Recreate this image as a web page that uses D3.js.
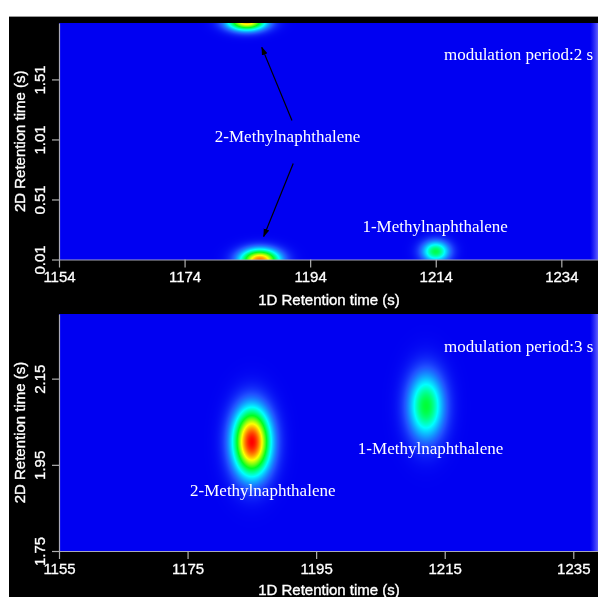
<!DOCTYPE html>
<html>
<head>
<meta charset="utf-8">
<script src="https://cdn.jsdelivr.net/npm/d3@7"></script>
<style>
html,body{margin:0;padding:0;background:#fff;}
#wrap{position:relative;width:598px;height:597px;overflow:hidden;}
canvas,svg{position:absolute;left:0;top:0;}
</style>
</head>
<body>
<div id="wrap"></div>
<script>
// ---------- DATA ----------
// Panel 1: modulation period 2 s
const xTicks1 = [1154, 1174, 1194, 1214, 1234];
const yTicks1 = [0.01, 0.51, 1.01, 1.51];
const xDomain1 = [1154, 1240];
const yDomain1 = [0.01, 1.98];
// peaks: 1D time, 2D time, relative intensity, sigma 1D (s), sigma 2D (s)
const peakNames1 = ["2-Methylnaphthalene", "2-Methylnaphthalene", "1-Methylnaphthalene"];
const peakX1 = [1186.0, 1183.9, 1214.0];
const peakY1 = [0.005, 1.99, 0.077];
const peakAmp1 = [0.88, 0.80, 0.46];
const peakSx1 = [2.1, 2.1, 1.5];
const peakSy1 = [0.062, 0.05, 0.06];

// Panel 2: modulation period 3 s
const xTicks2 = [1155, 1175, 1195, 1215, 1235];
const yTicks2 = [1.75, 1.95, 2.15];
const xDomain2 = [1155, 1239];
const yDomain2 = [1.75, 2.30];
const peakNames2 = ["2-Methylnaphthalene", "1-Methylnaphthalene"];
const peakX2 = [1185.0, 1212.1];
const peakY2 = [2.003, 2.086];
const peakAmp2 = [1.0, 0.48];
const peakSx2 = [1.95, 1.9];
const peakSy2 = [0.052, 0.052];

// text labels: [text, 1D time, 2D time, anchor]
const labels1 = [["modulation period:2 s", 1215.3, 1.668, "start"],
                 ["2-Methylnaphthalene", 1190.4, 0.985, "middle"],
                 ["1-Methylnaphthalene", 1213.9, 0.239, "middle"]];
const labels2 = [["modulation period:3 s", 1214.9, 2.212, "start"],
                 ["2-Methylnaphthalene", 1186.7, 1.878, "middle"],
                 ["1-Methylnaphthalene", 1212.8, 1.975, "middle"]];
// arrows: from (1D, 2D) to (1D, 2D)
const arrows1 = [[1191.1, 1.168, 1186.3, 1.777],
                 [1191.3, 0.81, 1186.6, 0.202]];

const xTitle = "1D Retention time (s)";
const yTitle = "2D Retention time (s)";

// ---------- LAYOUT ----------
const W = 598, H = 597;
const wrap = d3.select("#wrap");
const canvas = wrap.append("canvas").attr("width", W).attr("height", H).node();
const ctx = canvas.getContext("2d");
ctx.fillStyle = "#fff"; ctx.fillRect(0, 0, W, H);
ctx.fillStyle = "#000"; ctx.fillRect(9, 16, W - 9, H - 16);
ctx.fillStyle = "#9a9a9a"; ctx.fillRect(9, 16, W - 9, 1);
const svg = wrap.append("svg").attr("width", W).attr("height", H);

const color = d3.scaleLinear()
  .domain([0, 0.1, 0.3, 0.5, 0.72, 0.86, 1])
  .range(["#0000f2", "#2050ff", "#00ffff", "#00ff20", "#ffff00", "#ff8000", "#ff0000"])
  .clamp(true);

const panels = [
  {x0: 59, x1: 599, y0: 23, y1: 259.5, xd: xDomain1, yd: yDomain1, xt: xTicks1, yt: yTicks1,
   px: peakX1, py: peakY1, pa: peakAmp1, sx: peakSx1, sy: peakSy1, labels: labels1, arrows: arrows1, xTitleY: 300},
  {x0: 59, x1: 599, y0: 314, y1: 551, xd: xDomain2, yd: yDomain2, xt: xTicks2, yt: yTicks2,
   px: peakX2, py: peakY2, pa: peakAmp2, sx: peakSx2, sy: peakSy2, labels: labels2, arrows: [], xTitleY: 590}
];

const defs = svg.append("defs");
defs.append("marker").attr("id", "ah")
  .attr("viewBox", "0 0 10 10").attr("refX", 9).attr("refY", 5)
  .attr("markerWidth", 7).attr("markerHeight", 7).attr("orient", "auto")
  .append("path").attr("d", "M0,1.5 L10,5 L0,8.5 Z").attr("fill", "#000");

const grad = defs.append("linearGradient").attr("id", "edge").attr("x1", 0).attr("x2", 1).attr("y1", 0).attr("y2", 0);
grad.append("stop").attr("offset", "0%").attr("stop-color", "#4a4aff").attr("stop-opacity", 0);
grad.append("stop").attr("offset", "100%").attr("stop-color", "#6a6aff").attr("stop-opacity", 0.9);

panels.forEach(p => {
  const x = d3.scaleLinear().domain(p.xd).range([p.x0, p.x1]);
  const y = d3.scaleLinear().domain(p.yd).range([p.y1, p.y0]);
  // heatmap
  const ix0 = Math.round(p.x0), iy0 = Math.round(p.y0);
  const w = Math.round(p.x1) - ix0, h = Math.round(p.y1) - iy0;
  const img = ctx.createImageData(w, h);
  for (let j = 0; j < h; j++) {
    const yv = y.invert(iy0 + j + 0.5);
    for (let i = 0; i < w; i++) {
      const xv = x.invert(ix0 + i + 0.5);
      let v = 0;
      for (let k = 0; k < p.px.length; k++) {
        const dx = (xv - p.px[k]) / p.sx[k], dy = (yv - p.py[k]) / p.sy[k];
        v += p.pa[k] * Math.exp(-0.5 * (dx * dx + dy * dy));
      }
      const c = d3.rgb(color(v));
      const o = (j * w + i) * 4;
      img.data[o] = c.r; img.data[o + 1] = c.g; img.data[o + 2] = c.b; img.data[o + 3] = 255;
    }
  }
  ctx.putImageData(img, ix0, iy0);

  const g = svg.append("g");
  g.append("rect").attr("x", W - 8).attr("y", p.y0).attr("width", 8).attr("height", p.y1 - p.y0).attr("fill", "url(#edge)");

  // axes
  const xa = g.append("g").attr("transform", `translate(0,${p.y1})`)
    .call(d3.axisBottom(x).tickValues(p.xt).tickSize(8).tickSizeOuter(0).tickFormat(d3.format("d")));
  const ya = g.append("g").attr("transform", `translate(${p.x0},0)`)
    .call(d3.axisLeft(y).tickValues(p.yt).tickSize(7).tickSizeOuter(0).tickFormat(d3.format(".2f")));
  [xa, ya].forEach(a => {
    a.select(".domain").attr("stroke", "#a8a8b8").attr("stroke-width", 1.2);
    a.selectAll(".tick line").attr("stroke", "#b0b0b0").attr("stroke-width", 1.2);
    a.selectAll("text").attr("fill", "#fff").attr("font-family", "'Liberation Sans', Arial, sans-serif")
      .attr("font-size", 15).attr("stroke", "#fff").attr("stroke-width", 0.3);
  });
  xa.selectAll(".tick text").attr("y", 12).attr("dy", "0.71em");
  ya.selectAll(".tick text").attr("transform", "rotate(-90)").attr("x", 0).attr("y", -14).attr("dy", "0").attr("text-anchor", "middle");

  // axis titles
  g.append("text").attr("x", (p.x0 + p.x1) / 2).attr("y", p.xTitleY).attr("dy", "0.35em")
    .attr("text-anchor", "middle").attr("fill", "#fff").attr("stroke", "#fff").attr("stroke-width", 0.35)
    .attr("font-family", "'Liberation Sans', Arial, sans-serif").attr("font-size", 15).text(xTitle);
  g.append("text").attr("transform", `translate(20,${(p.y0 + p.y1) / 2}) rotate(-90)`).attr("dy", "0.35em")
    .attr("text-anchor", "middle").attr("fill", "#fff").attr("stroke", "#fff").attr("stroke-width", 0.35)
    .attr("font-family", "'Liberation Sans', Arial, sans-serif").attr("font-size", 15).text(yTitle);

  // labels
  p.labels.forEach(l => {
    g.append("text").attr("x", x(l[1])).attr("y", y(l[2])).attr("text-anchor", l[3])
      .attr("fill", "#fff").attr("font-family", "'Liberation Serif', 'Times New Roman', serif")
      .attr("font-size", 17).text(l[0]);
  });
  // arrows
  p.arrows.forEach(a => {
    g.append("line").attr("x1", x(a[0])).attr("y1", y(a[1])).attr("x2", x(a[2])).attr("y2", y(a[3]))
      .attr("stroke", "#000").attr("stroke-width", 1.2).attr("marker-end", "url(#ah)");
  });
});
</script>
</body>
</html>
